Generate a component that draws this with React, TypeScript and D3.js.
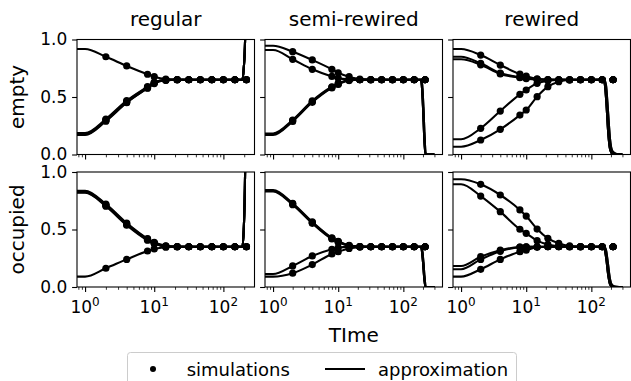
import React, { useEffect, useRef } from "react";
import * as d3 from "d3";

// column titles / row labels
const colTitles = ["regular", "semi-rewired", "rewired"];
const rowLabels = ["empty", "occupied"];

// time points: first one is where the approximation starts, the rest are simulation samples
const curveTimes = [1, 2, 4, 8, 10, 14.7, 21.5, 31.6, 46.4, 68.1, 100, 146.8, 215.4];
// data extent of each column (time), used like matplotlib autoscale
const colTimeExtent = [
  [1, 215.4],
  [1, 300],
  [1, 300],
];
const yTicks = [0, 0.5, 1];

// fraction of empty / occupied, 5 runs per panel, values at curveTimes
const regularEmpty = [
  [0.917, 0.85, 0.77, 0.698, 0.677, 0.656, 0.651, 0.65, 0.65, 0.65, 0.65, 0.65, 0.65],
  [0.186, 0.308, 0.468, 0.59, 0.628, 0.65, 0.65, 0.65, 0.65, 0.65, 0.65, 0.65, 0.65],
  [0.18, 0.301, 0.461, 0.585, 0.624, 0.648, 0.65, 0.65, 0.65, 0.65, 0.65, 0.65, 0.65],
  [0.174, 0.295, 0.455, 0.58, 0.62, 0.646, 0.65, 0.65, 0.65, 0.65, 0.65, 0.65, 0.65],
  [0.17, 0.29, 0.45, 0.576, 0.617, 0.645, 0.65, 0.65, 0.65, 0.65, 0.65, 0.65, 0.65],
];
const regularOccupied = [
  [0.09, 0.163, 0.24, 0.313, 0.331, 0.346, 0.35, 0.35, 0.35, 0.35, 0.35, 0.35, 0.35],
  [0.836, 0.72, 0.556, 0.421, 0.389, 0.358, 0.351, 0.35, 0.35, 0.35, 0.35, 0.35, 0.35],
  [0.83, 0.714, 0.549, 0.416, 0.385, 0.355, 0.35, 0.35, 0.35, 0.35, 0.35, 0.35, 0.35],
  [0.824, 0.708, 0.543, 0.411, 0.381, 0.353, 0.35, 0.35, 0.35, 0.35, 0.35, 0.35, 0.35],
  [0.819, 0.703, 0.538, 0.407, 0.378, 0.352, 0.35, 0.35, 0.35, 0.35, 0.35, 0.35, 0.35],
];
const semiEmpty = [
  [0.946, 0.894, 0.822, 0.741, 0.711, 0.677, 0.656, 0.651, 0.65, 0.65, 0.65, 0.65, 0.65],
  [0.909, 0.828, 0.741, 0.679, 0.664, 0.653, 0.65, 0.65, 0.65, 0.65, 0.65, 0.65, 0.65],
  [0.182, 0.3, 0.466, 0.589, 0.618, 0.648, 0.65, 0.65, 0.65, 0.65, 0.65, 0.65, 0.65],
  [0.176, 0.294, 0.46, 0.584, 0.613, 0.645, 0.65, 0.65, 0.65, 0.65, 0.65, 0.65, 0.65],
  [0.17, 0.288, 0.454, 0.579, 0.609, 0.643, 0.65, 0.65, 0.65, 0.65, 0.65, 0.65, 0.65],
];
const semiOccupied = [
  [0.113, 0.183, 0.27, 0.328, 0.342, 0.349, 0.35, 0.35, 0.35, 0.35, 0.35, 0.35, 0.35],
  [0.09, 0.12, 0.195, 0.287, 0.307, 0.335, 0.347, 0.35, 0.35, 0.35, 0.35, 0.35, 0.35],
  [0.843, 0.728, 0.566, 0.428, 0.398, 0.362, 0.352, 0.35, 0.35, 0.35, 0.35, 0.35, 0.35],
  [0.837, 0.722, 0.56, 0.423, 0.394, 0.36, 0.351, 0.35, 0.35, 0.35, 0.35, 0.35, 0.35],
  [0.831, 0.716, 0.554, 0.418, 0.39, 0.358, 0.351, 0.35, 0.35, 0.35, 0.35, 0.35, 0.35],
];
const rewiredEmpty = [
  [0.917, 0.865, 0.778, 0.7, 0.682, 0.658, 0.651, 0.65, 0.65, 0.65, 0.65, 0.65, 0.65],
  [0.85, 0.793, 0.708, 0.672, 0.663, 0.653, 0.65, 0.65, 0.65, 0.65, 0.65, 0.65, 0.65],
  [0.828, 0.78, 0.7, 0.668, 0.66, 0.652, 0.65, 0.65, 0.65, 0.65, 0.65, 0.65, 0.65],
  [0.132, 0.228, 0.378, 0.523, 0.561, 0.619, 0.642, 0.649, 0.65, 0.65, 0.65, 0.65, 0.65],
  [0.068, 0.126, 0.219, 0.343, 0.387, 0.503, 0.59, 0.633, 0.648, 0.65, 0.65, 0.65, 0.65],
];
const rewiredOccupied = [
  [0.937, 0.893, 0.8, 0.67, 0.617, 0.504, 0.423, 0.38, 0.357, 0.351, 0.35, 0.35, 0.35],
  [0.893, 0.791, 0.655, 0.502, 0.467, 0.403, 0.37, 0.355, 0.351, 0.35, 0.35, 0.35, 0.35],
  [0.183, 0.264, 0.32, 0.348, 0.35, 0.35, 0.35, 0.35, 0.35, 0.35, 0.35, 0.35, 0.35],
  [0.154, 0.24, 0.31, 0.346, 0.349, 0.35, 0.35, 0.35, 0.35, 0.35, 0.35, 0.35, 0.35],
  [0.09, 0.154, 0.24, 0.307, 0.32, 0.345, 0.35, 0.35, 0.35, 0.35, 0.35, 0.35, 0.35],
];
const panelData = [
  [regularEmpty, semiEmpty, rewiredEmpty],
  [regularOccupied, semiOccupied, rewiredOccupied],
];

// end of the approximation (blow-up / collapse), per column
const regularTail = [
  { times: [188, 197, 206, 215], empty: [0.65, 0.75, 1.0, 3], occupied: [0.35, 0.5, 1.0, 3] },
];
const semiTail = [
  { times: [186, 192, 200, 209, 218, 300], empty: [0.65, 0.6, 0.42, 0.15, 0, 0], occupied: [0.35, 0.32, 0.22, 0.08, 0, 0] },
  { times: [189, 195, 203, 212, 221, 300], empty: [0.65, 0.6, 0.42, 0.15, 0, 0], occupied: [0.35, 0.32, 0.22, 0.08, 0, 0] },
];
const rewiredTail = [
  { times: [150, 160, 170, 182, 195, 215, 300], empty: [0.65, 0.62, 0.45, 0.18, 0.04, 0, 0], occupied: [0.35, 0.33, 0.24, 0.1, 0.02, 0, 0] },
  { times: [158, 168, 180, 193, 210, 245, 300], empty: [0.65, 0.6, 0.38, 0.14, 0.03, 0.004, 0], occupied: [0.35, 0.32, 0.2, 0.07, 0.015, 0.002, 0] },
];
const colTails = [regularTail, semiTail, rewiredTail];

const FONT = "DejaVu Sans, sans-serif";

function drawChart(node: SVGSVGElement) {
  const svg = d3.select(node);
  svg.selectAll("*").remove();

  const panelLeft = [77, 265, 453];
  const panelW = 177.5;
  const rowTop = [39.5, 172];
  const panelH = 115;
  const nLine = curveTimes.length - 1; // line uses samples up to the tail

  colTitles.forEach((title, c) => {
    const [tMin, tMax] = colTimeExtent[c];
    const lo = Math.log10(tMin);
    const hi = Math.log10(tMax);
    const pad = 0.05 * (hi - lo);
    const x = d3
      .scaleLog()
      .domain([Math.pow(10, lo - pad), Math.pow(10, hi + pad)])
      .range([panelLeft[c], panelLeft[c] + panelW]);

    const allTicks = x.ticks();
    const majors = allTicks.filter((t) => Math.abs(Math.log10(t) - Math.round(Math.log10(t))) < 1e-9);
    const minors = allTicks.filter((t) => !majors.includes(t));

    rowLabels.forEach((rowName, r) => {
      const y = d3.scaleLinear().domain([0, 1]).range([rowTop[r] + panelH, rowTop[r]]);
      const rowKey = r === 0 ? "empty" : "occupied";
      const clipId = `clip-${c}-${r}`;
      svg
        .append("clipPath")
        .attr("id", clipId)
        .append("rect")
        .attr("x", panelLeft[c])
        .attr("y", rowTop[r])
        .attr("width", panelW)
        .attr("height", panelH);

      const g = svg.append("g").attr("clip-path", `url(#${clipId})`);

      const line = d3
        .line<[number, number]>()
        .x((d) => (d[0] <= 0 ? x.range()[0] - 2 : x(d[0])))
        .y((d) => y(d[1]))
        .curve(d3.curveMonotoneX);

      const curves = panelData[r][c];
      const tails = colTails[c];

      curves.forEach((vals, i) => {
        const tail: any = tails[i % tails.length];
        const pts: [number, number][] = [[0, vals[0]]];
        for (let k = 0; k < nLine; k++) pts.push([curveTimes[k], vals[k]]);
        tail.times.forEach((t: number, k: number) => pts.push([t, tail[rowKey][k]]));
        g.append("path")
          .attr("d", line(pts))
          .attr("fill", "none")
          .attr("stroke", "black")
          .attr("stroke-width", 2.1);
      });

      curves.forEach((vals) => {
        g.selectAll(null)
          .data(curveTimes.slice(1).map((t, k) => [t, vals[k + 1]]))
          .enter()
          .append("circle")
          .attr("cx", (d) => x(d[0]))
          .attr("cy", (d) => y(d[1]))
          .attr("r", 3.6)
          .attr("fill", "black");
      });

      // frame
      svg
        .append("rect")
        .attr("x", panelLeft[c])
        .attr("y", rowTop[r])
        .attr("width", panelW)
        .attr("height", panelH)
        .attr("fill", "none")
        .attr("stroke", "black")
        .attr("stroke-width", 1.1);

      // y axis
      const yAxis = svg
        .append("g")
        .attr("transform", `translate(${panelLeft[c]},0)`)
        .call(
          d3
            .axisLeft(y)
            .tickValues(yTicks)
            .tickSize(4.9)
            .tickPadding(4.9)
            .tickFormat(c === 0 ? (d3.format(".1f") as any) : () => "")
        );
      yAxis.select(".domain").remove();
      yAxis.selectAll("line").attr("stroke-width", 1.1);
      yAxis.selectAll("text").attr("font-size", 17).attr("font-family", FONT).attr("fill", "black");

      // x axis: major + minor ticks
      const xMajor = svg
        .append("g")
        .attr("transform", `translate(0,${rowTop[r] + panelH})`)
        .call(d3.axisBottom(x).tickValues(majors).tickSize(4.9).tickFormat(() => ""));
      xMajor.select(".domain").remove();
      xMajor.selectAll("line").attr("stroke-width", 1.1);
      const xMinor = svg
        .append("g")
        .attr("transform", `translate(0,${rowTop[r] + panelH})`)
        .call(d3.axisBottom(x).tickValues(minors).tickSize(2.8).tickFormat(() => ""));
      xMinor.select(".domain").remove();
      xMinor.selectAll("line").attr("stroke-width", 0.8);

      if (r === 1) {
        majors.forEach((t) => {
          const txt = svg
            .append("text")
            .attr("x", x(t))
            .attr("y", 313)
            .attr("text-anchor", "middle")
            .attr("font-family", FONT)
            .attr("font-size", 17);
          txt.append("tspan").text("10");
          txt
            .append("tspan")
            .attr("dy", -7.3)
            .attr("font-size", 12)
            .text(String(Math.round(Math.log10(t))));
        });
      }

      if (c === 0) {
        svg
          .append("text")
          .attr("transform", `translate(24,${rowTop[r] + panelH / 2}) rotate(-90)`)
          .attr("text-anchor", "middle")
          .attr("font-family", FONT)
          .attr("font-size", 20)
          .text(rowName);
      }
    });

    svg
      .append("text")
      .attr("x", panelLeft[c] + panelW / 2)
      .attr("y", 26)
      .attr("text-anchor", "middle")
      .attr("font-family", FONT)
      .attr("font-size", 20)
      .text(title);
  });

  svg
    .append("text")
    .attr("x", (panelLeft[0] + panelLeft[2] + panelW) / 2)
    .attr("y", 341.5)
    .attr("text-anchor", "middle")
    .attr("font-family", FONT)
    .attr("font-size", 20)
    .text("TIme");

  // legend
  const legend = svg.append("g");
  legend
    .append("rect")
    .attr("x", 127.5)
    .attr("y", 352.5)
    .attr("width", 389)
    .attr("height", 42)
    .attr("rx", 3)
    .attr("fill", "white")
    .attr("stroke", "#cccccc")
    .attr("stroke-width", 1);
  legend.append("circle").attr("cx", 153).attr("cy", 369).attr("r", 3).attr("fill", "black");
  legend
    .append("line")
    .attr("x1", 325)
    .attr("x2", 365)
    .attr("y1", 369)
    .attr("y2", 369)
    .attr("stroke", "black")
    .attr("stroke-width", 2.1);
  legend
    .selectAll(null)
    .data([
      { x: 186.7, label: "simulations" },
      { x: 378, label: "approximation" },
    ])
    .enter()
    .append("text")
    .attr("x", (d) => d.x)
    .attr("y", 375.5)
    .attr("font-family", FONT)
    .attr("font-size", 18)
    .text((d) => d.label);
}

export default function App() {
  const ref = useRef<SVGSVGElement>(null);
  useEffect(() => {
    if (ref.current) drawChart(ref.current);
  }, []);
  return (
    <svg
      ref={ref}
      width={631}
      height={381}
      style={{ position: "absolute", left: 0, top: 0, background: "white" }}
    />
  );
}
